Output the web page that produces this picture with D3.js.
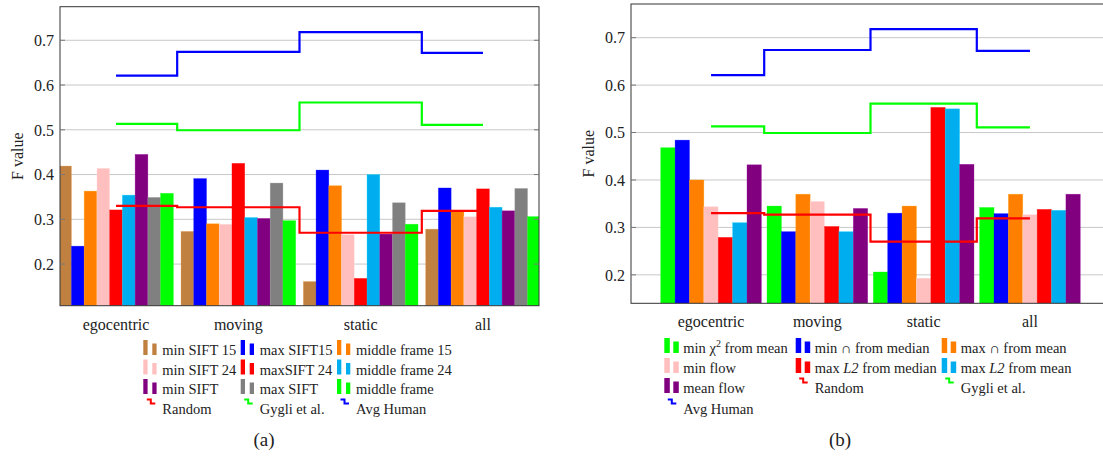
<!DOCTYPE html>
<html>
<head>
<meta charset="utf-8">
<script src="https://cdn.jsdelivr.net/npm/d3@7"></script>
<style>
  body { margin: 0; background: #fff; }
  svg { display: block; font-family: "Liberation Serif", "DejaVu Serif", serif; }
</style>
</head>
<body>
<div id="chart"></div>
<script>
// shared categories and reference lines
const categories = ["egocentric", "moving", "static", "all"];
const yTicks = [0.2, 0.3, 0.4, 0.5, 0.6, 0.7];
const randomLine = [0.330, 0.327, 0.270, 0.319];
const gygliLine = [0.513, 0.499, 0.561, 0.511];
const humanLine = [0.621, 0.674, 0.718, 0.672];

// panel (a)
const namesA = ["min SIFT 15", "max SIFT15", "middle frame 15",
                "min SIFT 24", "maxSIFT 24", "middle frame 24",
                "min SIFT", "max SIFT", "middle frame"];
const minSift15 = [0.419, 0.273, 0.161, 0.278];
const maxSift15 = [0.240, 0.391, 0.410, 0.370];
const middle15 = [0.363, 0.290, 0.375, 0.317];
const minSift24 = [0.414, 0.289, 0.266, 0.306];
const maxSift24 = [0.321, 0.425, 0.168, 0.368];
const middle24 = [0.354, 0.304, 0.400, 0.327];
const minSift = [0.445, 0.302, 0.267, 0.319];
const maxSift = [0.349, 0.381, 0.337, 0.369];
const middleFrame = [0.358, 0.297, 0.289, 0.306];

// panel (b)
const namesB = ["min χ2 from mean", "min ∩ from median", "max ∩ from mean",
                "min flow", "max L2 from median", "max L2 from mean", "mean flow"];
const minChi2Mean = [0.468, 0.345, 0.206, 0.342];
const minCapMedian = [0.484, 0.291, 0.330, 0.329];
const maxCapMean = [0.400, 0.370, 0.345, 0.370];
const minFlow = [0.344, 0.355, 0.193, 0.327];
const maxL2Median = [0.279, 0.302, 0.553, 0.338];
const maxL2Mean = [0.310, 0.291, 0.550, 0.336];
const meanFlow = [0.432, 0.340, 0.433, 0.370];

const C = {
    brown: "#bf8040", blue: "#0000ff", orange: "#ff8000", pink: "#ffbfbf",
    red: "#ff0000", cyan: "#00aeef", purple: "#800080", gray: "#808080", green: "#00ff00"
};

const width = 1103;
const height = 459;

const svg = d3.select("#chart").append("svg")
    .attr("width", width)
    .attr("height", height);

function drawPanel(p) {
    const g = svg.append("g");
    const clipId = "clip" + p.id;

    g.append("clipPath").attr("id", clipId)
        .append("rect")
        .attr("x", p.left).attr("y", p.top)
        .attr("width", p.right - p.left).attr("height", p.bottom - p.top);

    const x = d3.scalePoint()
        .domain(categories)
        .range([p.left, p.right])
        .padding(p.padding);

    const y = d3.scaleLinear()
        .domain(p.yDomain)
        .range([p.bottom, p.top]);

    const inner = d3.scaleBand()
        .domain(d3.range(p.series.length))
        .range([-p.barW * p.series.length / 2, p.barW * p.series.length / 2]);

    // grid
    g.append("g")
        .selectAll("line")
        .data(yTicks)
        .join("line")
        .attr("x1", p.left).attr("x2", p.right)
        .attr("y1", d => y(d)).attr("y2", d => y(d))
        .attr("stroke", "#c8c8c8")
        .attr("stroke-width", 1);

    // bars
    const plot = g.append("g").attr("clip-path", `url(#${clipId})`);
    p.series.forEach((s, i) => {
        plot.append("g")
            .selectAll("rect")
            .data(s.values)
            .join("rect")
            .attr("x", (d, k) => x(categories[k]) + inner(i))
            .attr("y", d => y(d))
            .attr("width", inner.bandwidth())
            .attr("height", d => p.bottom - y(d))
            .attr("fill", s.color)
            .attr("stroke", d3.color(s.color).brighter(0.6))
            .attr("stroke-opacity", 0.5)
            .attr("stroke-width", 0.6);
    });

    // step lines
    const line = d3.line()
        .x((d, k) => x(categories[k]))
        .y(d => y(d))
        .curve(d3.curveStep);

    [[randomLine, C.red], [gygliLine, C.green], [humanLine, C.blue]].forEach(([vals, col]) => {
        plot.append("path")
            .attr("d", line(vals))
            .attr("fill", "none")
            .attr("stroke", col)
            .attr("stroke-width", 2.2);
    });

    // frame
    g.append("rect")
        .attr("x", p.left).attr("y", p.top)
        .attr("width", p.right - p.left).attr("height", p.bottom - p.top)
        .attr("fill", "none")
        .attr("stroke", "#333")
        .attr("stroke-width", 1);

    // ticks on both sides
    const tk = g.append("g").attr("stroke", "#777").attr("stroke-width", 1);
    yTicks.forEach(t => {
        tk.append("line").attr("x1", p.left).attr("x2", p.left + 5)
            .attr("y1", y(t)).attr("y2", y(t));
        tk.append("line").attr("x1", p.right - 5).attr("x2", p.right)
            .attr("y1", y(t)).attr("y2", y(t));
    });

    g.append("g")
        .selectAll("text")
        .data(yTicks)
        .join("text")
        .attr("x", p.left - 6)
        .attr("y", d => y(d))
        .attr("dy", "0.36em")
        .attr("text-anchor", "end")
        .attr("font-size", 16)
        .attr("fill", "#222")
        .text(d => d.toFixed(1));

    g.append("text")
        .attr("transform", `translate(${p.left - 37},${(p.top + p.bottom) / 2}) rotate(-90)`)
        .attr("text-anchor", "middle")
        .attr("font-size", 16)
        .attr("fill", "#222")
        .text("F value");

    g.append("g")
        .selectAll("text")
        .data(categories)
        .join("text")
        .attr("x", d => x(d))
        .attr("y", p.catY)
        .attr("text-anchor", "middle")
        .attr("font-size", 16)
        .attr("fill", "#222")
        .text(d => d);

    // legend
    const items = p.series.map(s => ({ type: "bar", name: s.name, color: s.color }))
        .concat([
            { type: "line", name: "Random", color: C.red },
            { type: "line", name: "Gygli et al.", color: C.green },
            { type: "line", name: "Avg Human", color: C.blue }
        ]);

    const lg = g.append("g");
    items.forEach((it, i) => {
        const tx = p.legendCols[i % 3];
        const by = p.legendRows[Math.floor(i / 3)];
        if (it.type === "bar") {
            lg.append("rect").attr("x", tx - 19).attr("y", by - 15)
                .attr("width", p.iconW).attr("height", 15).attr("fill", it.color);
            lg.append("rect").attr("x", tx - 10).attr("y", by - 11.5)
                .attr("width", p.iconW).attr("height", 11.5).attr("fill", it.color);
        } else {
            lg.append("path")
                .attr("d", `M${tx - 15.5},${by - 14.5}H${tx - 11.5}V${by - 10.5}H${tx - 7}`)
                .attr("fill", "none")
                .attr("stroke", it.color)
                .attr("stroke-width", 2);
        }
        const t = lg.append("text")
            .attr("x", tx)
            .attr("y", by)
            .attr("font-size", 14.5)
            .attr("fill", "#222");
        if (it.name.indexOf("χ2") >= 0) {
            t.append("tspan").text("min χ");
            t.append("tspan").attr("font-size", 10).attr("dy", -6).text("2");
            t.append("tspan").attr("dy", 6).text(" from mean");
        } else if (it.name.indexOf("L2") >= 0) {
            const parts = it.name.split("L2");
            t.append("tspan").text(parts[0]);
            t.append("tspan").attr("font-style", "italic").text("L2");
            t.append("tspan").text(parts[1]);
        } else {
            t.text(it.name);
        }
    });

    g.append("text")
        .attr("x", p.captionX)
        .attr("y", 446)
        .attr("text-anchor", "middle")
        .attr("font-size", 19)
        .attr("fill", "#222")
        .text(p.caption);
}

drawPanel({
    id: "a",
    left: 60, right: 539, top: 6.7, bottom: 305.7,
    yDomain: [0.107, 0.775],
    padding: 0.458,
    barW: 12.74,
    catY: 330,
    iconW: 4.3,
    legendCols: [162.3, 259.7, 356],
    legendRows: [355, 374.5, 394, 414],
    caption: "(a)", captionX: 264,
    series: [
        { name: namesA[0], color: C.brown, values: minSift15 },
        { name: namesA[1], color: C.blue, values: maxSift15 },
        { name: namesA[2], color: C.orange, values: middle15 },
        { name: namesA[3], color: C.pink, values: minSift24 },
        { name: namesA[4], color: C.red, values: maxSift24 },
        { name: namesA[5], color: C.cyan, values: middle24 },
        { name: namesA[6], color: C.purple, values: minSift },
        { name: namesA[7], color: C.gray, values: maxSift },
        { name: namesA[8], color: C.green, values: middleFrame }
    ]
});

drawPanel({
    id: "b",
    left: 631, right: 1110, top: 4, bottom: 303.3,
    yDomain: [0.14, 0.771],
    padding: 0.753,
    barW: 14.38,
    catY: 327,
    iconW: 5.5,
    legendCols: [683.3, 814.7, 960.7],
    legendRows: [353, 373, 393, 414],
    caption: "(b)", captionX: 840,
    series: [
        { name: namesB[0], color: C.green, values: minChi2Mean },
        { name: namesB[1], color: C.blue, values: minCapMedian },
        { name: namesB[2], color: C.orange, values: maxCapMean },
        { name: namesB[3], color: C.pink, values: minFlow },
        { name: namesB[4], color: C.red, values: maxL2Median },
        { name: namesB[5], color: C.cyan, values: maxL2Mean },
        { name: namesB[6], color: C.purple, values: meanFlow }
    ]
});
</script>
</body>
</html>
